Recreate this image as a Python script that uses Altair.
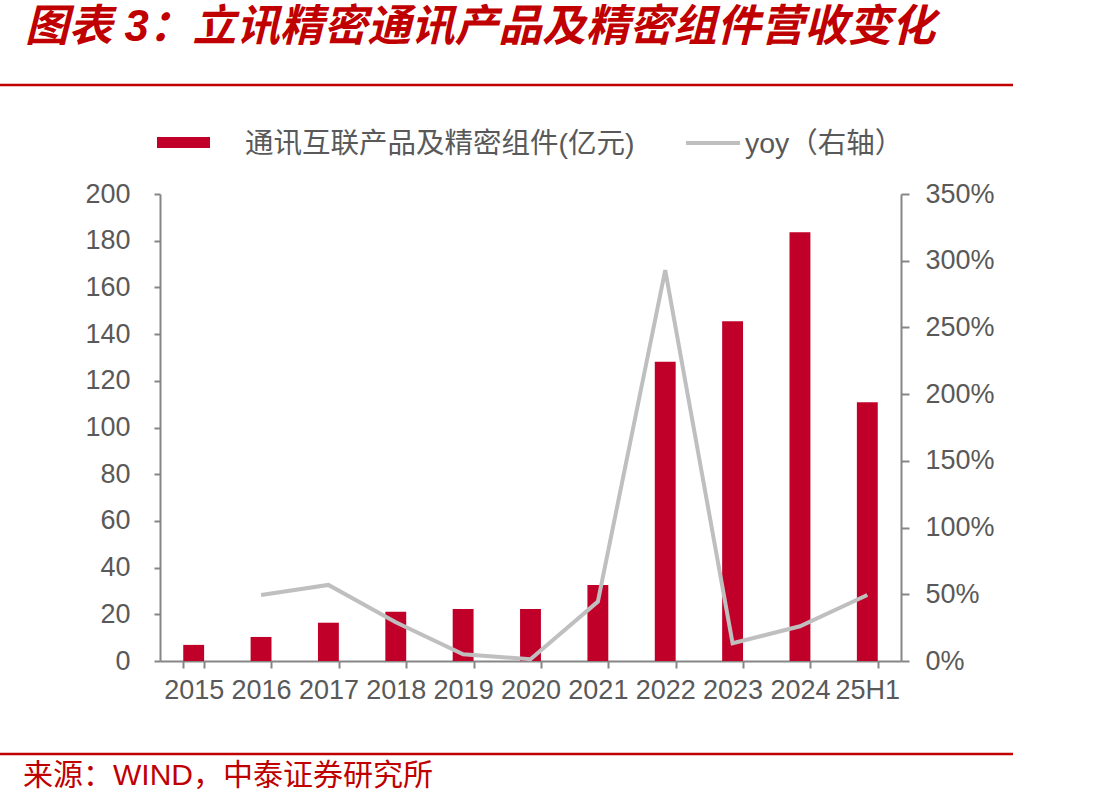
import altair as alt
import pandas as pd

categories = ["2015", "2016", "2017", "2018", "2019", "2020", "2021", "2022", "2023", "2024", "25H1"]
revenue = [6.9, 10.3, 16.4, 21.1, 22.3, 22.3, 32.5, 128.2, 145.5, 183.6, 110.8]
yoy = [None, 0.495, 0.57, 0.29, 0.05, 0.013, 0.445, 2.93, 0.133, 0.26, 0.495]

title_text = "图表 3：立讯精密通讯产品及精密组件营收变化"
source_text = "来源：WIND，中泰证券研究所"
bar_label = "通讯互联产品及精密组件(亿元)"
line_label = "yoy（右轴）"

RED = "#C00000"
BAR = "#C00028"
LINE = "#BFBFBF"
GRAY_TXT = "#595959"
AXIS = "#868686"
FONT = "Liberation Sans, Noto Sans CJK SC"

df = pd.DataFrame({"cat": categories, "rev": revenue, "yoy": yoy})

xenc = alt.X(
    "cat:N",
    sort=categories,
    title=None,
    scale=alt.Scale(paddingInner=0.69, paddingOuter=0.345),
    axis=alt.Axis(tickBand="extent", labelAngle=0, labelPadding=9, tickSize=7,
                  labelFontSize=27, labelColor=GRAY_TXT, labelFont=FONT),
)

bars = alt.Chart(df).mark_bar(color=BAR).encode(
    x=xenc,
    y=alt.Y("rev:Q", title=None,
            scale=alt.Scale(domain=[0, 200]),
            axis=alt.Axis(values=list(range(0, 201, 20)), orient="left", tickSize=6,
                          labelPadding=24, grid=False)),
)

line = alt.Chart(df).mark_line(color=LINE, strokeWidth=4).encode(
    x=xenc,
    y=alt.Y("yoy:Q", title=None,
            scale=alt.Scale(domain=[0, 3.5]),
            axis=alt.Axis(values=[0, 0.5, 1, 1.5, 2, 2.5, 3, 3.5], format=".0%",
                          orient="right", tickSize=8, labelPadding=16, grid=False)),
)

def text_layer(txt, x, y, size, color, weight="normal", style="normal", align="left"):
    return alt.Chart(pd.DataFrame({"t": [txt]})).mark_text(
        align=align, baseline="middle", fontSize=size, color=color,
        font=FONT, fontWeight=weight, fontStyle=style,
    ).encode(text="t:N", x=alt.value(x), y=alt.value(y))

def rule_layer(x1, x2, y, color, width):
    return alt.Chart(pd.DataFrame({"a": [0]})).mark_rule(color=color, strokeWidth=width).encode(
        x=alt.value(x1), x2=alt.value(x2), y=alt.value(y))

title = text_layer(title_text, -135, -166, 43.7, RED, weight="bold", style="italic")
top_rule = rule_layer(-160, 853, -109, RED, 2.5)
bottom_rule = rule_layer(-160, 853, 560, RED, 2.5)
source = text_layer(source_text, -137, 582, 30, RED)

legend_rect = alt.Chart(pd.DataFrame({"a": [0]})).mark_rect(color=BAR).encode(
    x=alt.value(-3), x2=alt.value(50), y=alt.value(-57), y2=alt.value(-46))
legend_t1 = text_layer(bar_label, 85, -50, 28.5, GRAY_TXT)
legend_line = rule_layer(526, 580, -51, LINE, 4)
legend_t2 = text_layer(line_label, 585, -50, 28.5, GRAY_TXT)

chart = alt.layer(
    bars, line,
    title, top_rule, bottom_rule, source,
    legend_rect, legend_t1, legend_line, legend_t2,
).resolve_scale(y="independent").properties(
    width=741, height=467,
    padding={"left": 160, "top": 194, "right": 209, "bottom": 147},
    autosize=alt.AutoSizeParams(type="none"),
    background="white",
).configure_axis(
    domainColor=AXIS, domainWidth=2, tickColor=AXIS, tickWidth=2,
    labelColor=GRAY_TXT, labelFont=FONT, labelFontSize=27, grid=False,
).configure_view(stroke=None)

chart.save("out.html", embed_options={"renderer": "svg", "actions": False})
